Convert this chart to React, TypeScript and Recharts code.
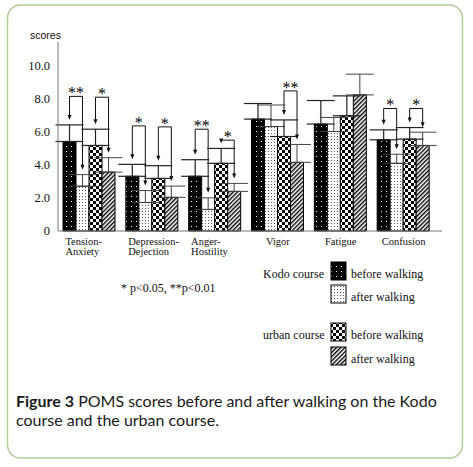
import React from "react";
import { BarChart, Bar, XAxis, YAxis, ErrorBar, LabelList } from "recharts";

const categories = [
  ["Tension-", "Anxiety"],
  ["Depression-", "Dejection"],
  ["Anger-", "Hostility"],
  ["Vigor"],
  ["Fatigue"],
  ["Confusion"],
];

// means and upper SD for each group
const kodoBefore = [5.4, 3.3, 3.3, 6.75, 6.45, 5.5];
const kodoBeforeSD = [1.0, 0.72, 1.0, 0.94, 1.42, 0.6];
const kodoAfter = [2.7, 1.72, 1.3, 6.3, 6.0, 4.08];
const kodoAfterSD = [0.7, 0.72, 0.7, 1.3, 0.85, 0.55];
const urbanBefore = [5.16, 3.17, 4.08, 5.7, 6.95, 5.54];
const urbanBeforeSD = [0.98, 0.77, 0.9, 1.0, 1.2, 0.7];
const urbanAfter = [3.55, 2.03, 2.39, 4.14, 8.21, 5.16];
const urbanAfterSD = [0.87, 0.68, 0.48, 1.08, 1.25, 0.8];

// significance brackets (before vs after)
const kodoSig = ["**", "*", "**", "", "", "*"];
const kodoBracket = [8.12, 6.34, 6.14, 0, 0, 7.39];
const urbanSig = ["*", "*", "*", "**", "", "*"];
const urbanBracket = [8.07, 6.28, 5.48, 8.45, 0, 7.39];

const yTicks = [0, 2, 4, 6, 8, 10];

const data = categories.map((c, i) => ({
  name: c.join(""),
  kb: kodoBefore[i],
  kbErr: [0, kodoBeforeSD[i]],
  ka: kodoAfter[i],
  kaErr: [0, kodoAfterSD[i]],
  ub: urbanBefore[i],
  ubErr: [0, urbanBeforeSD[i]],
  ua: urbanAfter[i],
  uaErr: [0, urbanAfterSD[i]],
}));

const serif = "'Liberation Serif', 'DejaVu Serif', serif";

function makeBracket(
  sig: string[],
  level: number[],
  before: number[],
  beforeSD: number[],
  after: number[],
  afterSD: number[]
) {
  return (p: any) => {
    const i = p.index;
    if (i == null || !sig[i]) return null;
    const x = Number(p.x);
    const w = Number(p.width);
    const h = Number(p.height);
    const base = Number(p.y) + h;
    const ppu = h / before[i];
    const toY = (v: number) => base - v * ppu;
    const yL = toY(level[i]);
    const x1 = x + w / 2;
    const x2 = x + w * 1.5;
    const tip1 = toY(before[i] + beforeSD[i]) - 5;
    const tip2 = toY(after[i] + afterSD[i]) - 5;
    const arrow = (ax: number, t: number) => (
      <polygon points={`${ax - 2},${t - 5} ${ax + 2},${t - 5} ${ax},${t}`} fill="#111" />
    );
    return (
      <g>
        <polyline
          points={`${x1},${tip1 - 4} ${x1},${yL} ${x2},${yL} ${x2},${tip2 - 4}`}
          fill="none"
          stroke="#111"
          strokeWidth={1}
        />
        {arrow(x1, tip1)}
        {arrow(x2, tip2)}
        <text x={(x1 + x2) / 2} y={yL + 2} textAnchor="middle" fontSize={16} fontFamily={serif} fill="#000">
          {sig[i]}
        </text>
      </g>
    );
  };
}

const CategoryTick = (props: any) => {
  const { x, y, index } = props;
  const lines = categories[index] || [];
  if (lines.length === 1) {
    return (
      <text x={x} y={y + 6} textAnchor="middle" fontSize={10.5} fontFamily={serif} fill="#111">
        {lines[0]}
      </text>
    );
  }
  return (
    <text fontSize={10.5} fontFamily={serif} fill="#111">
      <tspan x={x - 24} y={y + 6}>{lines[0]}</tspan>
      <tspan x={x - 24} y={y + 16}>{lines[1]}</tspan>
    </text>
  );
};

const legendRows = [
  { group: "Kodo course", label: "before walking", fill: "url(#kodoBefore)", y: 262 },
  { group: "", label: "after walking", fill: "url(#kodoAfter)", y: 285 },
  { group: "urban course", label: "before walking", fill: "url(#urbanBefore)", y: 323 },
  { group: "", label: "after walking", fill: "url(#urbanAfter)", y: 347 },
];

export default function App() {
  return (
    <div style={{ position: "absolute", left: 0, top: 0, width: 473, height: 467, background: "#fff" }}>
      <svg width={473} height={467} style={{ position: "absolute", left: 0, top: 0 }}>
        <defs>
          <pattern id="kodoBefore" width="5" height="5" patternUnits="userSpaceOnUse">
            <rect width="5" height="5" fill="#000" />
            <rect x="1" y="1" width="1" height="1" fill="#fff" />
          </pattern>
          <pattern id="kodoAfter" width="3" height="3" patternUnits="userSpaceOnUse">
            <rect width="3" height="3" fill="#fff" />
            <rect x="1" y="1" width="1" height="1" fill="#555" />
          </pattern>
          <pattern id="urbanBefore" width="6" height="6" patternUnits="userSpaceOnUse">
            <rect width="6" height="6" fill="#fff" />
            <rect x="0" y="0" width="3" height="3" fill="#000" />
            <rect x="3" y="3" width="3" height="3" fill="#000" />
          </pattern>
          <pattern id="urbanAfter" width="3" height="3" patternUnits="userSpaceOnUse" patternTransform="rotate(45)">
            <rect width="3" height="3" fill="#fff" />
            <rect x="0" y="0" width="1.4" height="3" fill="#000" />
          </pattern>
        </defs>
        <rect x={7.5} y={5} width={455} height={453} rx={13} fill="none" stroke="#b2cc99" strokeWidth={1.5} />
        <text x={30} y={39} fontSize={10.5} fontFamily="'Liberation Sans', Arial, sans-serif" fill="#111">
          scores
        </text>
        <text x={121} y={292} fontSize={12} fontFamily={serif} fill="#111">
          * p&lt;0.05, **p&lt;0.01
        </text>
        {legendRows.map((r, i) => (
          <g key={i}>
            {r.group && (
              <text x={263} y={r.y + 16} fontSize={12} fontFamily={serif} fill="#111">
                {r.group}
              </text>
            )}
            <rect x={331} y={r.y} width={15} height={18} fill={r.fill} stroke="#000" strokeWidth={1} />
            <text x={351} y={r.y + 16} fontSize={12} fontFamily={serif} fill="#111">
              {r.label}
            </text>
          </g>
        ))}
      </svg>

      <div style={{ position: "absolute", left: 0, top: 0 }}>
        <BarChart
          width={473}
          height={260}
          data={data}
          margin={{ top: 42, right: 31, left: 0, bottom: 0 }}
          barSize={13}
          barGap={0}
        >
          <XAxis
            dataKey="name"
            height={29}
            tickLine={false}
            stroke="#777"
            padding={{ left: 0, right: 7 }}
            interval={0}
            tick={<CategoryTick />}
          />
          <YAxis
            width={58}
            domain={[0, 11.4]}
            ticks={yTicks}
            interval={0}
            tickLine={false}
            stroke="#777"
            tick={{ fontSize: 12.5, fontFamily: serif, fill: "#111" }}
            tickFormatter={(v: number) => (v === 0 ? "0" : v.toFixed(1))}
          />
          <Bar dataKey="kb" fill="url(#kodoBefore)" stroke="#000" strokeWidth={1} isAnimationActive={false}>
            <ErrorBar dataKey="kbErr" width={14} stroke="#222" strokeWidth={1.2} direction="y" />
            <LabelList
              dataKey="kb"
              content={makeBracket(kodoSig, kodoBracket, kodoBefore, kodoBeforeSD, kodoAfter, kodoAfterSD)}
            />
          </Bar>
          <Bar dataKey="ka" fill="url(#kodoAfter)" stroke="#000" strokeWidth={1} isAnimationActive={false}>
            <ErrorBar dataKey="kaErr" width={14} stroke="#444" strokeWidth={1} direction="y" />
          </Bar>
          <Bar dataKey="ub" fill="url(#urbanBefore)" stroke="#000" strokeWidth={1} isAnimationActive={false}>
            <ErrorBar dataKey="ubErr" width={14} stroke="#222" strokeWidth={1.2} direction="y" />
            <LabelList
              dataKey="ub"
              content={makeBracket(urbanSig, urbanBracket, urbanBefore, urbanBeforeSD, urbanAfter, urbanAfterSD)}
            />
          </Bar>
          <Bar dataKey="ua" fill="url(#urbanAfter)" stroke="#000" strokeWidth={1} isAnimationActive={false}>
            <ErrorBar dataKey="uaErr" width={14} stroke="#444" strokeWidth={1} direction="y" />
          </Bar>
        </BarChart>
      </div>

      <div
        style={{
          position: "absolute",
          left: 16,
          top: 391,
          width: 445,
          fontFamily: "Lato, 'Open Sans', sans-serif",
          fontSize: 16,
          lineHeight: "19px",
          color: "#1a1a1a",
          whiteSpace: "nowrap",
        }}
      >
        <div>
          <b>Figure 3</b>
          <span> POMS scores before and after walking on the Kodo</span>
        </div>
        <div>course and the urban course.</div>
      </div>
    </div>
  );
}
